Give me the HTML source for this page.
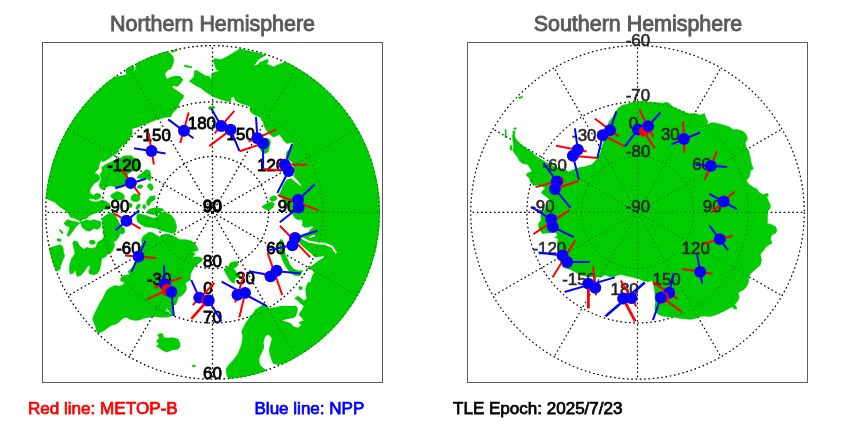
<!DOCTYPE html>
<html><head><meta charset="utf-8"><title>SNO prediction</title>
<style>html,body{margin:0;padding:0;background:#fff}body{width:850px;height:425px;overflow:hidden}svg{display:block;opacity:0.999;will-change:transform}text{font-family:"Liberation Sans",sans-serif}</style></head><body>
<svg width="850" height="425" viewBox="0 0 850 425">
<rect width="850" height="425" fill="#fff"/>
<defs>
<clipPath id="cn"><circle cx="212.5" cy="212.4" r="167.60000000000002"/></clipPath>
<clipPath id="cs"><circle cx="637.5" cy="212.4" r="167.60000000000002"/></clipPath>
</defs>
<g fill="none" stroke="#000" stroke-width="1.3" stroke-dasharray="1.5 2.8">
<circle cx="212.5" cy="212.4" r="166.8"/>
<circle cx="212.5" cy="212.4" r="110.6"/>
<circle cx="212.5" cy="212.4" r="56.0"/>
<line x1="212.5" y1="212.4" x2="212.50" y2="45.60"/>
<line x1="212.5" y1="212.4" x2="295.90" y2="67.95"/>
<line x1="212.5" y1="212.4" x2="356.95" y2="129.00"/>
<line x1="212.5" y1="212.4" x2="379.30" y2="212.40"/>
<line x1="212.5" y1="212.4" x2="356.95" y2="295.80"/>
<line x1="212.5" y1="212.4" x2="295.90" y2="356.85"/>
<line x1="212.5" y1="212.4" x2="212.50" y2="379.20"/>
<line x1="212.5" y1="212.4" x2="129.10" y2="356.85"/>
<line x1="212.5" y1="212.4" x2="68.05" y2="295.80"/>
<line x1="212.5" y1="212.4" x2="45.70" y2="212.40"/>
<line x1="212.5" y1="212.4" x2="68.05" y2="129.00"/>
<line x1="212.5" y1="212.4" x2="129.10" y2="67.95"/>
</g>
<g clip-path="url(#cn)" fill="#00cc00" stroke="#00cc00" stroke-width="0.3" stroke-linejoin="round">
<polygon points="170.0,40.0 167.9,52.0 170.2,53.2 173.2,56.7 174.0,60.8 172.6,65.5 170.8,69.1 167.9,70.2 164.9,73.8 166.1,77.3 167.3,79.1 170.2,77.3 174.9,76.1 179.6,76.1 183.2,79.6 180.8,83.2 177.3,86.7 174.4,85.8 172.0,86.7 173.8,88.5 177.3,90.8 180.8,93.2 183.8,95.5 183.2,98.5 180.8,100.8 179.1,103.8 178.5,106.7 176.1,109.6 173.2,112.6 171.4,115.5 170.2,117.3 166.1,117.3 161.4,118.5 155.5,120.2 149.6,122.6 143.8,124.9 137.9,127.3 132.6,128.5 132.0,130.2 132.6,133.8 130.8,136.7 129.1,139.6 126.7,142.6 124.4,144.9 122.0,146.1 120.2,148.5 118.5,149.6 119.1,151.4 116.1,153.8 112.6,156.1 109.1,158.5 105.5,160.8 102.6,162.0 101.4,160.2 100.2,162.6 99.1,165.5 98.5,169.1 95.3,172.2 94.9,173.5 97.8,174.3 99.4,175.9 100.2,178.8 98.2,181.3 94.9,183.0 93.2,185.0 90.8,188.6 89.9,191.5 90.8,193.8 93.6,195.2 95.5,193.8 97.4,192.9 100.2,194.3 101.2,197.1 98.4,199.0 95.5,199.9 93.2,199.0 89.9,198.5 88.9,199.5 90.8,200.9 94.6,201.8 98.4,201.4 101.2,199.9 104.0,200.4 106.8,201.8 109.6,203.7 110.8,207.0 108.0,209.4 102.0,209.4 101.4,209.1 100.8,212.0 97.3,212.6 93.8,213.8 89.1,216.1 86.7,218.5 82.6,219.6 80.8,221.4 74.9,218.5 70.2,217.3 68.5,213.8 65.5,210.8 59.6,206.7 54.4,202.0 50.5,200.4 46.2,198.5 30.0,198.0 30.0,90.0 112.0,72.0 115.5,76.7 122.6,75.5 126.7,74.4 125.5,70.8 126.1,69.6 125.0,66.0 132.0,62.0 133.2,65.5 134.4,67.3 134.0,70.8 132.9,72.8 135.3,69.3 136.1,64.4 135.0,58.0 165.0,44.0"/>
<polygon points="171.0,51.6 177.0,49.3 177.6,50.6 172.0,52.6"/>
<polygon points="80.8,221.4 82.6,221.4 86.7,219.6 90.2,220.8 93.8,219.6 100.8,221.4 100.8,226.7 97.9,229.6 93.8,228.5 89.6,231.4 85.5,230.2 82.0,227.3 80.8,223.8 79.5,221.5"/>
<polygon points="67.3,219.6 71.4,220.8 77.3,222.0 80.2,223.2 77.3,225.5 74.4,229.1 71.4,233.2 68.5,236.7 66.7,234.9 68.5,231.4 69.6,227.3 65.5,225.5 63.8,223.2"/>
<polygon points="56.7,239.2 59.0,238.5 61.4,239.5 61.0,241.4 57.5,241.2"/>
<polygon points="59.0,229.8 60.5,229.6 63.2,232.5 63.0,233.8 61.0,233.0"/>
<polygon points="89.3,241.0 91.0,239.9 94.0,240.2 95.5,242.0 94.5,244.2 91.5,244.6 89.5,243.5"/>
<polygon points="49.3,247.9 54.9,246.1 60.8,244.4 63.2,247.3 63.8,252.6 64.9,256.1 62.6,260.8 60.8,265.5 60.2,269.6 56.7,271.2 50.0,265.0 45.0,250.0"/>
<polygon points="123.7,155.8 131.5,155.4 134.0,158.2 138.1,159.1 140.6,163.2 140.2,169.4 139.0,169.8 131.5,171.6 128.2,173.9 127.0,177.2 126.0,182.0 124.7,184.9 120.9,185.6 116.2,187.2 112.5,186.3 109.6,185.8 106.8,187.2 103.1,190.1 100.2,188.2 98.8,184.9 100.2,182.1 101.2,178.3 100.2,175.9 100.2,174.1 102.1,170.8 101.6,167.0 102.7,166.5 105.2,164.4 109.7,162.4 115.1,159.9 120.0,158.2"/>
<polygon points="146.4,169.4 149.7,170.2 151.3,176.4 150.6,180.8 148.5,180.0 145.5,178.4 141.4,178.8 136.9,178.0 138.1,175.5 142.2,173.1 144.7,170.6"/>
<polygon points="117.2,191.3 120.9,192.4 123.3,194.3 124.7,196.6 123.8,199.5 119.1,200.3 114.4,199.7 111.1,197.5 110.6,195.2 113.4,193.3 115.8,192.0"/>
<polygon points="134.1,193.8 137.9,194.3 140.0,196.2 139.8,199.9 136.9,201.8 133.2,201.4 130.8,199.5 131.3,196.2"/>
<polygon points="148.2,183.9 151.1,183.5 153.0,185.8 153.0,189.1 151.5,191.0 148.7,188.6 147.3,186.3"/>
<polygon points="150.1,196.2 155.0,195.7 155.2,199.4 152.0,201.5 150.5,203.0 149.5,205.8 146.8,205.2 146.4,201.5 148.2,198.5"/>
<polygon points="137.9,185.4 141.6,184.4 143.1,186.3 141.6,188.2 138.4,188.6 136.9,187.0"/>
<polygon points="127.5,203.3 130.5,202.9 132.6,204.5 131.5,207.4 128.5,207.6 127.3,205.5"/>
<polygon points="137.3,204.6 140.8,204.1 139.6,207.6 137.3,209.9 135.5,208.2"/>
<polygon points="142.8,204.8 145.3,204.6 146.1,207.0 144.5,209.4 142.6,208.0"/>
<polygon points="147.3,210.5 151.4,208.2 157.3,207.6 163.2,208.8 163.8,210.5 159.6,212.3 157.3,215.2 151.4,214.6 147.9,213.5"/>
<polygon points="137.3,213.5 143.2,214.6 149.1,216.4 153.8,218.2 157.3,216.4 160.8,212.3 165.5,211.9 171.4,215.2 174.9,219.9 176.7,225.8 176.1,231.7 172.6,233.5 167.9,232.3 162.0,231.1 157.3,228.8 151.4,227.6 145.5,227.0 140.8,224.6 137.3,221.7 136.4,217.6"/>
<polygon points="103.2,217.3 106.7,214.4 110.8,212.6 114.9,214.6 118.0,220.0 120.8,225.8 124.4,228.2 124.9,232.3 122.6,234.3 119.8,233.8 119.1,237.3 116.1,240.8 113.2,242.6 114.9,244.0 114.4,246.7 112.6,250.8 110.2,253.8 107.3,254.4 106.1,256.7 102.0,258.5 101.4,262.0 100.8,265.5 99.6,270.2 97.3,273.8 93.8,274.9 89.1,273.8 88.5,271.4 90.2,267.3 89.1,264.9 86.7,267.9 84.4,271.4 80.8,275.5 77.3,276.7 76.1,273.8 75.5,270.2 73.2,273.2 70.2,274.4 69.1,270.2 69.6,264.4 71.4,258.5 74.9,253.8 73.8,247.9 72.6,243.2 73.8,240.8 77.3,241.4 79.6,245.5 80.8,246.7 83.8,249.1 86.7,247.3 91.4,248.5 95.5,247.3 97.3,243.2 98.5,241.4 102.0,239.6 104.4,236.1 102.6,233.2 103.2,230.2 102.0,223.2"/>
<polygon points="143.2,236.1 149.1,232.0 152.6,232.6 156.1,234.9 159.6,236.7 162.6,234.4 166.7,233.8 171.4,234.9 176.1,237.3 179.6,239.6 185.5,239.4 191.4,240.8 194.9,243.8 197.3,247.3 198.5,250.2 194.9,251.4 192.6,252.0 195.5,253.8 192.6,257.3 198.5,256.7 202.0,257.9 202.6,260.2 200.2,262.5 196.1,265.5 193.2,269.1 190.8,273.8 190.2,277.3 190.8,280.2 187.3,281.4 185.5,283.8 186.7,287.3 186.1,290.8 183.8,293.8 181.4,296.1 178.5,297.3 177.3,300.8 176.1,304.4 172.6,306.1 172.0,309.6 173.2,314.4 172.0,316.1 167.3,317.3 161.4,317.3 155.5,316.7 149.6,317.3 143.8,318.5 139.1,320.2 135.4,320.5 130.5,319.8 126.2,317.6 122.7,318.4 119.9,321.2 116.4,324.0 111.4,325.4 109.3,326.8 104.4,330.4 98.7,333.5 96.6,331.8 95.2,326.1 92.4,319.1 93.8,314.9 96.7,309.1 99.6,303.2 102.6,298.5 104.9,293.8 106.7,290.2 110.8,287.3 114.9,285.5 119.6,286.1 123.2,284.4 124.4,282.0 120.8,281.4 120.2,278.5 123.2,275.5 126.7,274.9 129.6,274.4 127.9,271.4 130.2,269.6 134.9,265.0 137.3,252.6 139.6,249.1 141.8,243.8 141.4,239.6"/>
<polygon points="160.1,333.2 162.9,333.9 163.7,337.4 167.2,338.1 172.1,337.4 177.8,338.8 179.9,342.4 180.3,346.6 177.8,349.4 172.1,350.1 167.2,352.2 162.9,350.8 159.4,348.0 156.3,346.6 158.7,343.8 156.3,340.9 158.0,339.5 159.4,337.4 157.3,335.3"/>
<polygon points="230.2,262.8 234.0,261.4 237.8,261.4 238.2,265.2 235.9,267.5 233.5,268.0 235.4,270.8 237.3,273.6 239.6,274.6 240.6,276.5 238.7,277.9 235.9,277.4 234.9,280.2 234.5,283.5 231.2,282.1 228.8,278.8 226.9,275.5 225.1,272.2 223.6,269.4 225.5,268.0 228.8,266.1"/>
<polygon points="189.1,81.4 193.8,76.7 194.4,70.8 196.7,70.2 201.4,73.2 206.1,76.1 209.1,76.1 211.1,79.4 211.4,74.9 213.2,72.6 217.3,71.4 219.1,70.2 216.1,69.6 214.9,65.5 213.2,61.4 213.8,58.5 220.8,59.6 226.7,56.7 232.6,53.2 237.3,50.2 240.2,48.4 245.0,49.9 250.0,51.0 257.0,52.6 263.0,54.3 266.1,55.2 263.2,56.7 258.5,59.6 255.5,63.8 253.2,65.5 257.3,64.9 259.6,62.6 264.4,60.2 267.9,59.1 268.5,61.4 266.7,63.8 269.1,64.9 273.8,66.7 277.3,64.9 282.0,63.2 284.4,62.0 290.0,52.0 395.0,52.0 395.0,395.0 283.0,395.0 281.4,363.4 278.8,365.1 273.1,363.4 271.4,359.3 269.8,354.4 269.0,349.4 270.6,343.7 271.9,338.7 269.8,335.4 267.5,334.6 265.7,336.0 264.6,338.0 263.4,342.4 264.2,347.0 262.0,352.0 259.6,357.0 259.1,361.5 260.0,364.8 262.4,367.5 265.5,369.6 266.0,385.0 230.0,390.0 229.6,378.5 227.3,376.7 226.1,372.6 226.1,368.5 228.5,364.9 232.0,361.4 235.5,357.3 237.9,353.8 239.6,349.5 240.8,346.7 242.0,342.0 242.6,336.1 241.4,331.4 243.8,326.7 246.1,322.0 247.3,320.8 249.6,317.3 252.6,313.8 255.5,309.6 259.1,307.3 262.6,304.9 267.3,306.1 269.6,308.5 275.5,307.3 281.4,306.1 288.5,306.1 295.5,306.1 299.1,307.3 302.6,308.5 303.8,306.1 300.8,303.8 297.9,300.8 294.4,298.5 297.9,296.1 301.4,298.5 303.8,300.8 306.7,298.5 306.1,294.9 305.5,289.1 306.1,286.7 307.9,282.6 310.8,282.0 311.4,278.5 312.6,274.9 314.9,271.4 311.4,269.6 306.1,269.1 310.2,266.7 313.8,264.4 318.5,260.8 323.2,257.9 324.4,255.5 319.6,256.7 314.9,257.3 312.6,254.9 307.9,250.8 303.2,246.7 299.1,242.6 300.0,238.0 303.8,234.4 308.5,232.6 310.2,229.6 313.2,227.3 312.0,226.1 308.5,227.3 304.4,227.3 302.0,225.5 302.6,222.6 301.6,219.5 299.0,220.0 296.0,219.0 293.5,216.2 292.3,213.0 288.0,206.0 283.0,199.0 278.5,195.5 279.3,194.0 281.2,190.2 282.8,186.1 284.9,182.2 287.3,179.6 291.4,178.5 293.2,176.1 294.9,173.2 294.4,172.0 293.8,169.1 293.2,164.4 291.4,161.4 287.9,159.6 286.1,156.1 286.7,152.0 289.1,149.6 292.0,147.3 293.2,143.8 291.4,142.6 287.3,143.8 284.4,141.4 281.4,137.3 279.1,134.4 277.3,135.5 273.8,137.3 270.2,134.9 267.3,132.0 265.5,129.1 263.8,125.5 263.2,122.0 262.0,120.8 260.2,117.3 255.5,115.5 252.0,113.2 249.6,110.2 250.8,107.3 247.3,105.5 241.4,103.8 235.5,100.8 233.8,96.7 231.4,97.3 230.8,102.2 227.3,101.4 222.6,100.2 217.9,98.5 213.2,96.7 208.5,93.8 204.9,91.4 201.4,88.5 195.5,85.5 190.2,82.0"/>
<polygon points="281.0,239.0 283.0,240.5 284.0,246.0 285.5,254.9 287.9,259.6 290.2,264.9 293.8,269.1 298.5,270.8 303.2,270.2 299.6,276.1 294.4,275.5 290.2,272.6 286.1,267.3 282.6,260.8 280.8,254.9 279.1,247.3 279.5,241.0"/>
<polygon points="270.2,197.3 274.4,195.5 277.3,197.3 276.1,200.2 272.0,201.4 269.6,199.6"/>
<polygon points="261.4,206.7 264.9,204.4 268.5,202.6 272.6,202.0 274.4,203.8 273.2,207.3 269.6,210.2 265.5,209.6"/>
<polygon points="259.6,147.9 261.4,151.4 265.5,153.8 268.5,151.4 269.1,148.5 270.8,142.0 269.6,139.6 267.3,137.9 263.0,140.0"/>
<polygon points="208.2,107.6 210.0,106.3 214.5,106.1 215.0,107.8 212.0,109.6 209.0,109.4"/>
<polygon points="184.0,65.3 186.5,64.9 189.0,66.3 192.0,66.2 191.5,67.9 187.5,67.6 184.3,66.5"/>
<polygon points="298.5,287.5 300.0,286.1 302.6,287.3 302.0,289.8 299.5,290.0"/>
<polygon points="192.0,365.2 195.5,365.0 195.0,367.0 192.3,366.8"/>
</g>
<g clip-path="url(#cn)" fill="#fff">
<polygon points="295.3,303.3 299.0,306.3 302.6,308.0 303.8,305.5 304.5,307.5 303.6,306.6 301.1,310.7 298.6,314.8 302.7,318.9 303.6,320.6 298.6,322.2 301.1,325.5 297.8,327.7 293.7,326.4 290.4,323.1 285.4,321.4 282.1,320.6 287.1,318.9 293.7,318.1 296.1,315.7 297.8,309.9 297.0,306.6"/>
<polygon points="291.4,178.5 294.9,181.4 299.1,184.9 301.4,186.2 300.8,184.4 296.7,179.6 293.2,176.1 292.0,177.0"/>
</g>
<g clip-path="url(#cn)" fill="none" stroke="#fff" stroke-linecap="round" stroke-linejoin="round">
<polyline points="302.6,238.5 308.5,241.4 317.9,243.2 324.9,243.8 332.0,246.7 335.8,252.5" stroke-width="2.0"/>
<polyline points="309.6,237.3 314.4,235.5" stroke-width="1.4"/>
<polyline points="166.8,308.5 169.0,311.5 170.8,314.0" stroke-width="0.9"/>
<polyline points="168.8,311.3 165.4,310.6" stroke-width="0.8"/>
</g>
<g fill="none" stroke="#000" stroke-opacity="0.45" stroke-width="0.9" stroke-dasharray="1.5 2.8">
<circle cx="212.5" cy="212.4" r="166.8"/>
<circle cx="212.5" cy="212.4" r="110.6"/>
<circle cx="212.5" cy="212.4" r="56.0"/>
<line x1="212.5" y1="212.4" x2="212.50" y2="45.60"/>
<line x1="212.5" y1="212.4" x2="295.90" y2="67.95"/>
<line x1="212.5" y1="212.4" x2="356.95" y2="129.00"/>
<line x1="212.5" y1="212.4" x2="379.30" y2="212.40"/>
<line x1="212.5" y1="212.4" x2="356.95" y2="295.80"/>
<line x1="212.5" y1="212.4" x2="295.90" y2="356.85"/>
<line x1="212.5" y1="212.4" x2="212.50" y2="379.20"/>
<line x1="212.5" y1="212.4" x2="129.10" y2="356.85"/>
<line x1="212.5" y1="212.4" x2="68.05" y2="295.80"/>
<line x1="212.5" y1="212.4" x2="45.70" y2="212.40"/>
<line x1="212.5" y1="212.4" x2="68.05" y2="129.00"/>
<line x1="212.5" y1="212.4" x2="129.10" y2="67.95"/>
</g>
<g fill="none" stroke="#000" stroke-width="1.15" stroke-dasharray="1.5 2.8">
<circle cx="637.5" cy="212.4" r="166.8"/>
<circle cx="637.5" cy="212.4" r="110.6"/>
<circle cx="637.5" cy="212.4" r="56.0"/>
<line x1="637.5" y1="212.4" x2="637.50" y2="45.60"/>
<line x1="637.5" y1="212.4" x2="720.90" y2="67.95"/>
<line x1="637.5" y1="212.4" x2="781.95" y2="129.00"/>
<line x1="637.5" y1="212.4" x2="804.30" y2="212.40"/>
<line x1="637.5" y1="212.4" x2="781.95" y2="295.80"/>
<line x1="637.5" y1="212.4" x2="720.90" y2="356.85"/>
<line x1="637.5" y1="212.4" x2="637.50" y2="379.20"/>
<line x1="637.5" y1="212.4" x2="554.10" y2="356.85"/>
<line x1="637.5" y1="212.4" x2="493.05" y2="295.80"/>
<line x1="637.5" y1="212.4" x2="470.70" y2="212.40"/>
<line x1="637.5" y1="212.4" x2="493.05" y2="129.00"/>
<line x1="637.5" y1="212.4" x2="554.10" y2="67.95"/>
</g>
<g clip-path="url(#cs)" fill="#00cc00" stroke="#00cc00" stroke-width="0.3" stroke-linejoin="round">
<polygon points="512.9,131.1 515.2,130.5 514.6,134.6 515.8,138.8 518.8,142.3 522.3,145.2 527.0,148.8 531.7,152.3 535.8,155.8 540.5,158.8 545.2,161.7 548.8,164.1 557.0,167.5 565.8,170.9 568.8,171.7 573.5,169.4 579.4,167.6 585.2,166.4 591.7,164.6 594.6,161.7 596.4,159.4 598.2,157.6 600.5,152.3 602.3,145.2 604.0,140.5 606.0,130.0 608.8,122.0 611.1,119.1 613.5,115.5 615.8,111.4 618.2,107.9 621.7,105.5 627.6,103.8 633.5,102.0 638.2,101.2 644.1,101.6 649.9,102.0 657.0,102.4 662.9,103.2 666.4,102.0 669.9,103.8 671.7,106.1 677.6,109.1 683.5,111.4 689.4,113.8 695.2,113.2 699.9,114.9 704.6,113.2 705.8,117.9 708.2,121.4 707.0,124.4 711.7,122.6 717.6,123.2 723.5,124.9 729.4,126.7 732.9,129.6 737.6,129.6 742.3,130.8 745.8,133.8 747.6,137.9 747.0,140.2 745.2,143.2 746.4,147.3 748.8,150.8 749.9,155.5 751.1,161.4 752.3,166.1 753.5,169.1 750.5,170.8 749.9,175.5 749.4,176.7 746.4,180.8 749.4,184.4 753.5,187.3 757.0,189.1 759.4,192.6 762.9,194.4 767.6,193.2 768.8,194.9 767.0,197.3 768.8,201.4 770.5,204.9 770.5,207.9 768.2,210.8 767.6,215.5 767.6,223.2 772.3,224.9 775.8,226.7 777.0,230.2 775.8,233.2 771.7,234.9 770.5,239.1 772.3,243.2 768.8,244.9 765.8,247.3 763.5,250.8 760.5,253.8 761.1,257.3 761.7,260.2 760.5,264.9 757.0,267.9 754.6,270.2 751.1,273.2 748.8,276.7 748.8,281.4 747.0,286.1 744.1,289.6 739.4,292.0 738.2,293.0 739.4,296.7 737.6,301.4 734.6,304.4 736.4,306.7 737.0,309.1 734.1,309.1 732.3,306.7 728.2,309.1 723.5,311.4 718.8,313.8 714.1,315.5 709.4,316.7 704.6,316.1 699.9,316.7 695.2,318.5 690.5,319.6 685.8,319.1 679.9,318.5 674.1,317.3 668.2,316.9 662.3,316.1 658.2,314.4 655.8,312.0 654.6,308.5 655.2,303.8 655.2,300.8 654.6,291.4 653.5,283.2 652.3,280.8 647.6,282.0 642.9,280.8 638.2,278.5 632.3,277.3 626.4,276.1 621.1,274.4 617.0,275.5 612.3,277.3 608.8,276.7 605.2,274.9 600.5,277.3 599.4,277.3 587.6,276.7 580.5,274.9 575.8,272.6 571.1,269.9 566.4,268.5 562.9,267.3 559.9,261.4 558.8,249.6 557.0,243.2 558.2,239.3 554.6,237.3 557.6,236.1 555.8,232.6 546.4,233.2 542.3,233.8 538.8,228.5 538.2,223.8 541.1,220.2 540.5,215.5 543.0,212.0 550.0,201.0 548.2,198.2 544.6,195.5 541.1,192.9 542.3,191.1 545.2,187.8 537.6,185.2 533.5,185.8 530.5,182.3 529.4,178.2 526.4,175.8 527.0,172.9 531.7,171.7 530.5,168.8 527.6,164.6 522.3,163.5 519.4,161.1 517.6,157.6 514.6,153.5 512.9,150.5 513.5,146.4 512.9,141.7 512.3,137.0"/>
<polygon points="504.8,129.4 506.2,129.6 506.4,134.0 506.0,138.2 504.8,137.0 505.0,133.0"/>
<polygon points="510.0,145.2 512.0,145.5 512.3,150.5 510.2,150.0 509.9,147.0"/>
<polygon points="513.5,128.0 516.2,127.6 516.4,129.0 513.8,129.4"/>
<polygon points="518.3,97.4 522.3,95.9 523.0,97.4 519.0,99.0"/>
</g>
<g fill="none" stroke="#000" stroke-opacity="0.45" stroke-width="0.9" stroke-dasharray="1.5 2.8">
<circle cx="637.5" cy="212.4" r="166.8"/>
<circle cx="637.5" cy="212.4" r="110.6"/>
<circle cx="637.5" cy="212.4" r="56.0"/>
<line x1="637.5" y1="212.4" x2="637.50" y2="45.60"/>
<line x1="637.5" y1="212.4" x2="720.90" y2="67.95"/>
<line x1="637.5" y1="212.4" x2="781.95" y2="129.00"/>
<line x1="637.5" y1="212.4" x2="804.30" y2="212.40"/>
<line x1="637.5" y1="212.4" x2="781.95" y2="295.80"/>
<line x1="637.5" y1="212.4" x2="720.90" y2="356.85"/>
<line x1="637.5" y1="212.4" x2="637.50" y2="379.20"/>
<line x1="637.5" y1="212.4" x2="554.10" y2="356.85"/>
<line x1="637.5" y1="212.4" x2="493.05" y2="295.80"/>
<line x1="637.5" y1="212.4" x2="470.70" y2="212.40"/>
<line x1="637.5" y1="212.4" x2="493.05" y2="129.00"/>
<line x1="637.5" y1="212.4" x2="554.10" y2="67.95"/>
</g>
<g fill="none" stroke="#5a5a5a" stroke-width="1">
<rect x="42.5" y="42.5" width="340" height="340"/>
<rect x="467.5" y="42.5" width="340" height="340"/>
</g>
<text x="137.0" y="140.6" font-size="16.9" fill="#000" stroke="#000" stroke-width="0.85">-150</text>
<text x="187.8" y="129.2" font-size="16.9" fill="#000" stroke="#000" stroke-width="0.85">180</text>
<text x="226.6" y="140.4" font-size="16.9" fill="#000" stroke="#000" stroke-width="0.85">150</text>
<text x="257.2" y="170.8" font-size="16.9" fill="#000" stroke="#000" stroke-width="0.85">120</text>
<text x="277.7" y="212.3" font-size="16.9" fill="#000" stroke="#000" stroke-width="0.85">90</text>
<text x="266.3" y="253.9" font-size="16.9" fill="#000" stroke="#000" stroke-width="0.85">60</text>
<text x="236.0" y="284.4" font-size="16.9" fill="#000" stroke="#000" stroke-width="0.85">30</text>
<text x="203.3" y="294.4" font-size="16.9" fill="#000" stroke="#000" stroke-width="0.85">0</text>
<text x="146.9" y="284.5" font-size="16.9" fill="#000" stroke="#000" stroke-width="0.85">-30</text>
<text x="116.2" y="253.7" font-size="16.9" fill="#000" stroke="#000" stroke-width="0.85">-60</text>
<text x="105.0" y="212.3" font-size="16.9" fill="#000" stroke="#000" stroke-width="0.85">-90</text>
<text x="107.2" y="170.6" font-size="16.9" fill="#000" stroke="#000" stroke-width="0.85">-120</text>
<text x="203.0" y="211.6" font-size="16.9" fill="#000" stroke="#000" stroke-width="1.4">90</text>
<text x="203.0" y="267.3" font-size="16.9" fill="#000" stroke="#000" stroke-width="0.85">80</text>
<text x="203.0" y="323.1" font-size="16.9" fill="#000" stroke="#000" stroke-width="0.85">70</text>
<text x="203.0" y="379.0" font-size="16.9" fill="#000" stroke="#000" stroke-width="0.85">60</text>
<polyline points="134.1,148.2 165.6,153.4" fill="none" stroke="#0000ff" stroke-width="2.0" stroke-linecap="butt"/>
<polyline points="148.7,133.5 153.9,164.6" fill="none" stroke="#ff0000" stroke-width="2.0" stroke-linecap="butt"/>
<polyline points="168.2,119.4 193.4,138.2" fill="none" stroke="#0000ff" stroke-width="2.0" stroke-linecap="butt"/>
<polyline points="188.7,112.4 180.2,142.9" fill="none" stroke="#ff0000" stroke-width="2.0" stroke-linecap="butt"/>
<polyline points="234.4,110.8 214.6,133.4" fill="none" stroke="#ff0000" stroke-width="2.0" stroke-linecap="butt"/>
<polyline points="230.6,129.9 209.4,146.1" fill="none" stroke="#ff0000" stroke-width="2.0" stroke-linecap="butt"/>
<polyline points="211.3,108.5 221.2,126.1 230.6,129.9 239.5,151.2" fill="none" stroke="#0000ff" stroke-width="2.0" stroke-linecap="butt"/>
<polyline points="239.5,151.2 263.1,143.4" fill="none" stroke="#ff0000" stroke-width="2.0" stroke-linecap="butt"/>
<polyline points="248.7,141.6 276.2,129.6" fill="none" stroke="#ff0000" stroke-width="2.0" stroke-linecap="butt"/>
<polyline points="256.0,116.9 257.4,138.2 263.1,143.4 263.1,168.9" fill="none" stroke="#0000ff" stroke-width="2.0" stroke-linecap="butt"/>
<polyline points="263.1,168.9 281.2,170.4" fill="none" stroke="#ff0000" stroke-width="2.0" stroke-linecap="butt"/>
<polyline points="277.2,164.5 306.9,164.8" fill="none" stroke="#ff0000" stroke-width="2.0" stroke-linecap="butt"/>
<polyline points="292.2,143.9 284.8,164.7 288.6,171.0 277.3,193.0" fill="none" stroke="#0000ff" stroke-width="2.0" stroke-linecap="butt"/>
<polyline points="277.9,195.2 318.8,210.4" fill="none" stroke="#ff0000" stroke-width="2.0" stroke-linecap="butt"/>
<polyline points="314.6,184.6 298.1,199.9 298.6,207.6 279.8,222.2" fill="none" stroke="#0000ff" stroke-width="2.0" stroke-linecap="butt"/>
<polyline points="279.9,225.8 310.2,257.2" fill="none" stroke="#ff0000" stroke-width="2.0" stroke-linecap="butt"/>
<polyline points="317.6,230.8 295.0,237.9 292.4,245.2 269.3,250.1" fill="none" stroke="#0000ff" stroke-width="2.0" stroke-linecap="butt"/>
<polyline points="267.6,252.8 282.3,295.2" fill="none" stroke="#ff0000" stroke-width="2.0" stroke-linecap="butt"/>
<polyline points="248.8,271.2 263.0,273.8 270.5,276.4 276.6,270.7 282.7,271.8 300.6,273.5" fill="none" stroke="#0000ff" stroke-width="2.0" stroke-linecap="butt"/>
<polyline points="244.5,273.5 235.2,302.5" fill="none" stroke="#ff0000" stroke-width="2.0" stroke-linecap="butt"/>
<polyline points="245.1,292.9 239.3,317.4" fill="none" stroke="#ff0000" stroke-width="2.0" stroke-linecap="butt"/>
<polyline points="221.6,281.6 266.8,306.1" fill="none" stroke="#0000ff" stroke-width="2.0" stroke-linecap="butt"/>
<polyline points="214.4,283.0 192.7,305.1" fill="none" stroke="#ff0000" stroke-width="2.0" stroke-linecap="butt"/>
<polyline points="207.5,300.6 191.3,318.8" fill="none" stroke="#ff0000" stroke-width="2.6" stroke-linecap="butt"/>
<polyline points="191.3,280.2 199.3,297.6 208.7,300.4 221.4,321.2" fill="none" stroke="#0000ff" stroke-width="2.0" stroke-linecap="butt"/>
<polyline points="154.0,287.8 181.8,277.4" fill="none" stroke="#ff0000" stroke-width="2.0" stroke-linecap="butt"/>
<polyline points="167.2,290.1 147.4,299.1" fill="none" stroke="#ff0000" stroke-width="2.0" stroke-linecap="butt"/>
<polyline points="164.1,265.6 164.6,284.0" fill="none" stroke="#0000ff" stroke-width="2.0" stroke-linecap="butt"/>
<polyline points="171.4,292.0 173.8,316.1" fill="none" stroke="#0000ff" stroke-width="2.0" stroke-linecap="butt"/>
<polyline points="125.1,255.6 156.2,257.9" fill="none" stroke="#ff0000" stroke-width="2.0" stroke-linecap="butt"/>
<polyline points="145.4,241.0 131.5,271.5" fill="none" stroke="#0000ff" stroke-width="2.0" stroke-linecap="butt"/>
<polyline points="113.8,213.3 140.5,228.7" fill="none" stroke="#ff0000" stroke-width="2.0" stroke-linecap="butt"/>
<polyline points="139.1,210.3 115.5,230.3" fill="none" stroke="#0000ff" stroke-width="2.0" stroke-linecap="butt"/>
<polyline points="121.9,169.9 140.2,195.2" fill="none" stroke="#ff0000" stroke-width="2.0" stroke-linecap="butt"/>
<polyline points="115.3,188.2 145.9,178.8" fill="none" stroke="#0000ff" stroke-width="2.0" stroke-linecap="butt"/>
<circle cx="151.5" cy="151.0" r="5.95" fill="#a000a0"/>
<circle cx="151.5" cy="151.0" r="5.7" fill="#0000ff"/>
<circle cx="184.0" cy="130.7" r="5.95" fill="#a000a0"/>
<circle cx="184.0" cy="130.7" r="5.7" fill="#0000ff"/>
<circle cx="221.2" cy="126.0" r="5.95" fill="#a000a0"/>
<circle cx="221.2" cy="126.0" r="5.7" fill="#0000ff"/>
<circle cx="230.6" cy="129.8" r="5.95" fill="#a000a0"/>
<circle cx="230.6" cy="129.8" r="5.7" fill="#0000ff"/>
<circle cx="257.4" cy="138.2" r="5.95" fill="#a000a0"/>
<circle cx="257.4" cy="138.2" r="5.7" fill="#0000ff"/>
<circle cx="263.1" cy="143.4" r="5.95" fill="#a000a0"/>
<circle cx="263.1" cy="143.4" r="5.7" fill="#0000ff"/>
<circle cx="284.8" cy="164.7" r="5.95" fill="#a000a0"/>
<circle cx="284.8" cy="164.7" r="5.7" fill="#0000ff"/>
<circle cx="288.6" cy="171.0" r="5.95" fill="#a000a0"/>
<circle cx="288.6" cy="171.0" r="5.7" fill="#0000ff"/>
<circle cx="298.1" cy="199.9" r="5.95" fill="#a000a0"/>
<circle cx="298.1" cy="199.9" r="5.7" fill="#0000ff"/>
<circle cx="298.6" cy="207.6" r="5.95" fill="#a000a0"/>
<circle cx="298.6" cy="207.6" r="5.7" fill="#0000ff"/>
<circle cx="295.0" cy="237.9" r="5.95" fill="#a000a0"/>
<circle cx="295.0" cy="237.9" r="5.7" fill="#0000ff"/>
<circle cx="292.4" cy="245.2" r="5.95" fill="#a000a0"/>
<circle cx="292.4" cy="245.2" r="5.7" fill="#0000ff"/>
<circle cx="276.6" cy="270.7" r="5.95" fill="#a000a0"/>
<circle cx="276.6" cy="270.7" r="5.7" fill="#0000ff"/>
<circle cx="270.5" cy="276.4" r="5.95" fill="#a000a0"/>
<circle cx="270.5" cy="276.4" r="5.7" fill="#0000ff"/>
<circle cx="237.5" cy="294.8" r="5.95" fill="#a000a0"/>
<circle cx="237.5" cy="294.8" r="5.7" fill="#0000ff"/>
<circle cx="245.0" cy="292.9" r="5.95" fill="#a000a0"/>
<circle cx="245.0" cy="292.9" r="5.7" fill="#0000ff"/>
<circle cx="199.3" cy="297.6" r="5.95" fill="#a000a0"/>
<circle cx="199.3" cy="297.6" r="5.7" fill="#0000ff"/>
<circle cx="207.3" cy="300.6" r="6.0" fill="#ff0000"/>
<circle cx="208.7" cy="300.4" r="5.95" fill="#a000a0"/>
<circle cx="208.7" cy="300.4" r="5.7" fill="#0000ff"/>
<circle cx="164.6" cy="284.0" r="5.95" fill="#a000a0"/>
<circle cx="164.6" cy="284.0" r="5.7" fill="#0000ff"/>
<circle cx="167.2" cy="290.1" r="6.0" fill="#ff0000"/>
<circle cx="171.4" cy="292.0" r="5.95" fill="#a000a0"/>
<circle cx="171.4" cy="292.0" r="5.7" fill="#0000ff"/>
<circle cx="138.5" cy="256.5" r="5.95" fill="#a000a0"/>
<circle cx="138.5" cy="256.5" r="5.7" fill="#0000ff"/>
<circle cx="126.4" cy="220.7" r="5.95" fill="#a000a0"/>
<circle cx="126.4" cy="220.7" r="5.7" fill="#0000ff"/>
<circle cx="130.8" cy="183.0" r="5.95" fill="#a000a0"/>
<circle cx="130.8" cy="183.0" r="5.7" fill="#0000ff"/>
<text x="625.7" y="45.7" font-size="16.9" fill="#282828" stroke="#282828" stroke-width="0.6">-60</text>
<text x="625.7" y="101.1" font-size="16.9" fill="#282828" stroke="#282828" stroke-width="0.6">-70</text>
<text x="625.9" y="156.5" font-size="16.9" fill="#282828" stroke="#282828" stroke-width="0.6">-80</text>
<text x="625.7" y="211.9" font-size="16.9" fill="#282828" stroke="#282828" stroke-width="0.6">-90</text>
<text x="628.8" y="128.5" font-size="16.9" fill="#282828" stroke="#282828" stroke-width="0.6">0</text>
<text x="660.9" y="140.2" font-size="16.9" fill="#282828" stroke="#282828" stroke-width="0.6">30</text>
<text x="692.2" y="170.4" font-size="16.9" fill="#282828" stroke="#282828" stroke-width="0.6">60</text>
<text x="702.8" y="212.3" font-size="16.9" fill="#282828" stroke="#282828" stroke-width="0.6">90</text>
<text x="681.6" y="253.7" font-size="16.9" fill="#282828" stroke="#282828" stroke-width="0.6">120</text>
<text x="652.5" y="284.8" font-size="16.9" fill="#282828" stroke="#282828" stroke-width="0.6">150</text>
<text x="610.5" y="295.2" font-size="16.9" fill="#282828" stroke="#282828" stroke-width="0.6">180</text>
<text x="562.2" y="284.9" font-size="16.9" fill="#282828" stroke="#282828" stroke-width="0.6">-150</text>
<text x="532.4" y="253.5" font-size="16.9" fill="#282828" stroke="#282828" stroke-width="0.6">-120</text>
<text x="530.2" y="211.9" font-size="16.9" fill="#282828" stroke="#282828" stroke-width="0.6">-90</text>
<text x="542.4" y="170.8" font-size="16.9" fill="#282828" stroke="#282828" stroke-width="0.6">-60</text>
<text x="572.1" y="140.6" font-size="16.9" fill="#282828" stroke="#282828" stroke-width="0.6">-30</text>
<polyline points="556.0,145.8 586.6,151.5" fill="none" stroke="#ff0000" stroke-width="2.0" stroke-linecap="butt"/>
<polyline points="572.9,155.7 597.4,158.1" fill="none" stroke="#ff0000" stroke-width="2.0" stroke-linecap="butt"/>
<polyline points="574.9,128.4 577.8,149.6 572.9,155.7 578.9,179.6" fill="none" stroke="#0000ff" stroke-width="2.0" stroke-linecap="butt"/>
<polyline points="578.5,181.0 554.9,189.0" fill="none" stroke="#ff0000" stroke-width="2.0" stroke-linecap="butt"/>
<polyline points="563.2,179.5 535.6,187.1" fill="none" stroke="#ff0000" stroke-width="2.0" stroke-linecap="butt"/>
<polyline points="594.7,118.5 618.7,136.4" fill="none" stroke="#ff0000" stroke-width="2.0" stroke-linecap="butt"/>
<polyline points="602.7,135.2 624.4,146.2" fill="none" stroke="#ff0000" stroke-width="2.0" stroke-linecap="butt"/>
<polyline points="616.4,111.4 610.0,130.2 602.7,135.2 597.4,158.1" fill="none" stroke="#0000ff" stroke-width="2.0" stroke-linecap="butt"/>
<polyline points="639.3,109.7 653.5,137.0" fill="none" stroke="#ff0000" stroke-width="2.0" stroke-linecap="butt"/>
<polyline points="643.5,131.0 654.7,148.3" fill="none" stroke="#ff0000" stroke-width="2.0" stroke-linecap="butt"/>
<polyline points="660.5,112.5 648.2,126.2 637.9,129.5 624.8,146.7" fill="none" stroke="#0000ff" stroke-width="2.0" stroke-linecap="butt"/>
<polyline points="683.1,121.5 684.4,152.8" fill="none" stroke="#ff0000" stroke-width="2.0" stroke-linecap="butt"/>
<polyline points="700.1,132.5 671.4,144.3" fill="none" stroke="#0000ff" stroke-width="2.0" stroke-linecap="butt"/>
<polyline points="717.2,151.1 704.7,179.6" fill="none" stroke="#ff0000" stroke-width="2.0" stroke-linecap="butt"/>
<polyline points="696.0,164.8 727.1,167.1" fill="none" stroke="#0000ff" stroke-width="2.0" stroke-linecap="butt"/>
<polyline points="734.7,191.5 711.6,212.4" fill="none" stroke="#ff0000" stroke-width="2.0" stroke-linecap="butt"/>
<polyline points="709.4,193.8 736.8,209.1" fill="none" stroke="#0000ff" stroke-width="2.0" stroke-linecap="butt"/>
<polyline points="703.8,243.8 732.6,235.8" fill="none" stroke="#ff0000" stroke-width="2.0" stroke-linecap="butt"/>
<polyline points="709.4,225.5 727.9,250.2" fill="none" stroke="#0000ff" stroke-width="2.0" stroke-linecap="butt"/>
<polyline points="682.3,269.0 712.3,273.8" fill="none" stroke="#ff0000" stroke-width="2.0" stroke-linecap="butt"/>
<polyline points="697.0,254.0 702.2,283.5" fill="none" stroke="#0000ff" stroke-width="2.0" stroke-linecap="butt"/>
<polyline points="652.7,281.9 677.6,298.9" fill="none" stroke="#ff0000" stroke-width="2.0" stroke-linecap="butt"/>
<polyline points="662.6,297.5 681.9,312.1" fill="none" stroke="#ff0000" stroke-width="2.0" stroke-linecap="butt"/>
<polyline points="673.4,273.9 669.2,292.8 660.9,297.5 652.9,320.2" fill="none" stroke="#0000ff" stroke-width="2.0" stroke-linecap="butt"/>
<polyline points="620.8,280.6 636.4,306.5" fill="none" stroke="#ff0000" stroke-width="2.0" stroke-linecap="butt"/>
<polyline points="623.2,298.5 635.2,321.4" fill="none" stroke="#ff0000" stroke-width="2.8" stroke-linecap="butt"/>
<polyline points="644.8,282.5 605.5,316.2" fill="none" stroke="#0000ff" stroke-width="2.6" stroke-linecap="butt"/>
<polyline points="593.1,266.1 596.1,295.3" fill="none" stroke="#ff0000" stroke-width="2.0" stroke-linecap="butt"/>
<polyline points="588.4,283.7 588.4,308.4" fill="none" stroke="#ff0000" stroke-width="2.8" stroke-linecap="butt"/>
<polyline points="564.6,292.0 614.9,277.4" fill="none" stroke="#0000ff" stroke-width="2.0" stroke-linecap="butt"/>
<polyline points="575.2,240.4 552.5,277.4" fill="none" stroke="#ff0000" stroke-width="2.0" stroke-linecap="butt"/>
<polyline points="538.5,252.6 562.5,255.4 567.2,262.0 589.7,261.9" fill="none" stroke="#0000ff" stroke-width="2.0" stroke-linecap="butt"/>
<polyline points="569.4,210.1 533.4,234.2" fill="none" stroke="#ff0000" stroke-width="2.0" stroke-linecap="butt"/>
<polyline points="531.3,206.8 551.2,219.3 552.8,226.8 573.8,237.1" fill="none" stroke="#0000ff" stroke-width="2.0" stroke-linecap="butt"/>
<polyline points="543.5,163.0 556.8,181.5 554.9,189.0 570.4,207.7" fill="none" stroke="#0000ff" stroke-width="2.0" stroke-linecap="butt"/>
<circle cx="572.9" cy="155.7" r="5.95" fill="#a000a0"/>
<circle cx="572.9" cy="155.7" r="5.7" fill="#0000ff"/>
<circle cx="577.8" cy="149.6" r="5.95" fill="#a000a0"/>
<circle cx="577.8" cy="149.6" r="5.7" fill="#0000ff"/>
<circle cx="602.7" cy="135.2" r="5.95" fill="#a000a0"/>
<circle cx="602.7" cy="135.2" r="5.7" fill="#0000ff"/>
<circle cx="610.0" cy="130.2" r="5.95" fill="#a000a0"/>
<circle cx="610.0" cy="130.2" r="5.7" fill="#0000ff"/>
<circle cx="637.9" cy="129.5" r="5.95" fill="#a000a0"/>
<circle cx="637.9" cy="129.5" r="5.7" fill="#0000ff"/>
<circle cx="644.2" cy="131.2" r="5.4" fill="#ff0000"/>
<circle cx="648.2" cy="126.2" r="5.95" fill="#a000a0"/>
<circle cx="648.2" cy="126.2" r="5.7" fill="#0000ff"/>
<circle cx="683.9" cy="139.0" r="5.95" fill="#a000a0"/>
<circle cx="683.9" cy="139.0" r="5.7" fill="#0000ff"/>
<circle cx="710.8" cy="165.9" r="5.95" fill="#a000a0"/>
<circle cx="710.8" cy="165.9" r="5.7" fill="#0000ff"/>
<circle cx="723.7" cy="201.5" r="5.95" fill="#a000a0"/>
<circle cx="723.7" cy="201.5" r="5.7" fill="#0000ff"/>
<circle cx="719.8" cy="239.2" r="5.95" fill="#a000a0"/>
<circle cx="719.8" cy="239.2" r="5.7" fill="#0000ff"/>
<circle cx="700.2" cy="271.9" r="5.95" fill="#a000a0"/>
<circle cx="700.2" cy="271.9" r="5.7" fill="#0000ff"/>
<circle cx="669.2" cy="292.8" r="5.95" fill="#a000a0"/>
<circle cx="669.2" cy="292.8" r="5.7" fill="#0000ff"/>
<circle cx="662.8" cy="297.5" r="6.0" fill="#ff0000"/>
<circle cx="660.9" cy="297.5" r="5.95" fill="#a000a0"/>
<circle cx="660.9" cy="297.5" r="5.7" fill="#0000ff"/>
<circle cx="631.6" cy="298.1" r="5.95" fill="#a000a0"/>
<circle cx="631.6" cy="298.1" r="5.7" fill="#0000ff"/>
<circle cx="623.2" cy="298.5" r="5.95" fill="#a000a0"/>
<circle cx="623.2" cy="298.5" r="5.7" fill="#0000ff"/>
<circle cx="595.3" cy="287.7" r="5.95" fill="#a000a0"/>
<circle cx="595.3" cy="287.7" r="5.7" fill="#0000ff"/>
<circle cx="588.3" cy="283.6" r="5.95" fill="#a000a0"/>
<circle cx="588.3" cy="283.6" r="5.7" fill="#0000ff"/>
<circle cx="562.5" cy="255.4" r="5.95" fill="#a000a0"/>
<circle cx="562.5" cy="255.4" r="5.7" fill="#0000ff"/>
<circle cx="567.2" cy="262.0" r="5.95" fill="#a000a0"/>
<circle cx="567.2" cy="262.0" r="5.7" fill="#0000ff"/>
<circle cx="551.2" cy="219.3" r="5.95" fill="#a000a0"/>
<circle cx="551.2" cy="219.3" r="5.7" fill="#0000ff"/>
<circle cx="552.8" cy="226.8" r="5.95" fill="#a000a0"/>
<circle cx="552.8" cy="226.8" r="5.7" fill="#0000ff"/>
<circle cx="558.2" cy="181.3" r="5.6" fill="#ff0000"/>
<circle cx="556.8" cy="181.5" r="5.95" fill="#a000a0"/>
<circle cx="556.8" cy="181.5" r="5.7" fill="#0000ff"/>
<circle cx="554.9" cy="189.0" r="5.95" fill="#a000a0"/>
<circle cx="554.9" cy="189.0" r="5.7" fill="#0000ff"/>
<text x="212.5" y="30.6" font-size="21.45" text-anchor="middle" fill="#5a5a5a" stroke="#5a5a5a" stroke-width="0.9">Northern Hemisphere</text>
<text x="638" y="30.6" font-size="21.45" text-anchor="middle" fill="#5a5a5a" stroke="#5a5a5a" stroke-width="0.9">Southern Hemisphere</text>
<text x="27.9" y="413.6" font-size="17.1" fill="#ff0000" stroke="#ff0000" stroke-width="0.75">Red line: METOP-B</text>
<text x="254.5" y="413.6" font-size="17.05" fill="#0000ff" stroke="#0000ff" stroke-width="0.75">Blue line: NPP</text>
<text x="453" y="413.6" font-size="17.05" fill="#000" stroke="#000" stroke-width="0.75">TLE Epoch: 2025/7/23</text>
</svg></body></html>
